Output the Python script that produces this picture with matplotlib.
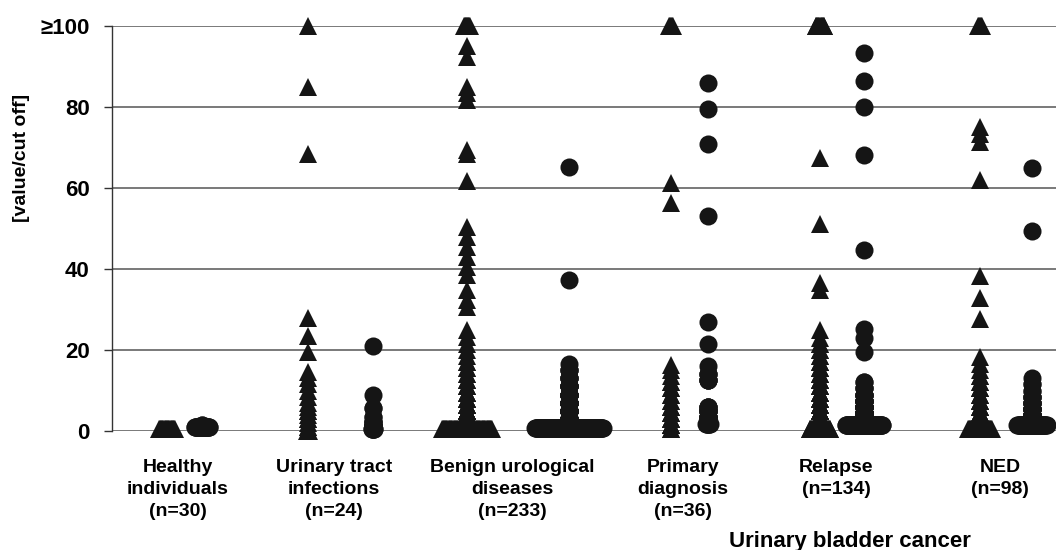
import matplotlib
matplotlib.use("Agg")
import matplotlib.pyplot as plt
import numpy as np

plt.rcParams['font.family'] = ['Liberation Sans', 'DejaVu Sans']

# categories
group_labels = [
    "Healthy\nindividuals\n(n=30)",
    "Urinary tract\ninfections\n(n=24)",
    "Benign urological\ndiseases\n(n=233)",
    "Primary\ndiagnosis\n(n=36)",
    "Relapse\n(n=134)",
    "NED\n(n=98)",
]
cancer_label = "Urinary bladder cancer"

# triangles: values (>=100 clipped to 100) and how many samples sit on each value
healthy_tri_vals = [0.5]
healthy_tri_cnt = [30]
uti_tri_vals = [0, 1, 2, 3, 4, 5, 6, 7, 8.5, 10, 11.5, 13, 14.5, 19.4, 23.5, 27.8, 68.5, 85, 100]
uti_tri_cnt = [3, 2, 1, 2, 1, 2, 1, 1, 1, 1, 1, 1, 1, 1, 1, 1, 1, 1, 1]
benign_tri_vals = [0.5, 1, 2, 3, 4, 5, 6.5, 8, 9.5, 11, 12.5, 14, 15.5, 17, 18.5, 20, 21.5,
                   23.3, 24.9, 30.7, 32.3, 34.8, 38.5, 40.5, 43, 45.5, 47.9, 50.4, 61.7,
                   68.5, 69.5, 81.7, 83.4, 85, 92.4, 95.1, 100]
benign_tri_cnt = [92, 24, 21, 15, 12, 10, 6, 5, 4, 3, 3, 2, 2, 2, 1, 1, 1,
                  1, 1, 1, 1, 1, 1, 1, 1, 1, 1, 1, 1,
                  1, 1, 1, 1, 1, 1, 1, 12]
primary_tri_vals = [0.5, 1.5, 3, 4.5, 6, 7.5, 9, 10.5, 12, 13.5, 15, 16.3, 56.3, 61.3, 100]
primary_tri_cnt = [2, 4, 4, 3, 3, 2, 2, 2, 2, 1, 1, 1, 1, 1, 7]
relapse_tri_vals = [0.5, 2, 3.5, 5, 6.5, 8, 9.5, 11, 12.5, 14, 15.5, 17, 18.5, 20, 21.5, 23,
                    24.9, 34.7, 36.6, 51, 67.5, 100]
relapse_tri_cnt = [39, 12, 10, 9, 7, 6, 5, 4, 4, 3, 3, 3, 2, 2, 2, 1,
                   1, 1, 1, 1, 1, 17]
ned_tri_vals = [0.5, 1.5, 3, 4.5, 6, 7.5, 9, 10.5, 12, 13.5, 15, 16.5, 18.3, 27.6, 32.8,
                38.3, 61.9, 71.4, 73.3, 75, 100]
ned_tri_cnt = [44, 8, 6, 5, 4, 4, 3, 3, 2, 2, 1, 1, 1, 1, 1, 1, 1, 1, 1, 1, 7]

# circles
healthy_cir_vals = [1.0, 1.5]
healthy_cir_cnt = [28, 2]
uti_cir_vals = [0.5, 1.2, 2.3, 3.5, 5.6, 9, 21]
uti_cir_cnt = [6, 8, 4, 2, 2, 1, 1]
benign_cir_vals = [0.7, 2, 3, 5, 7, 9, 11, 13, 15, 16.5, 37.3, 65.2]
benign_cir_cnt = [124, 30, 25, 18, 12, 8, 6, 4, 3, 1, 1, 1]
primary_cir_vals = [1.7, 3.5, 5, 6, 12.6, 14, 16.1, 21.5, 27, 53.1, 70.8, 79.4, 86]
primary_cir_cnt = [7, 6, 5, 4, 4, 3, 1, 1, 1, 1, 1, 1, 1]
relapse_cir_vals = [1.5, 3, 4.5, 6, 7.5, 9, 10.5, 12, 19.4, 23, 25.2, 44.6, 68.2, 80, 86.5, 93.3]
relapse_cir_cnt = [68, 18, 13, 10, 7, 5, 3, 2, 1, 1, 1, 1, 1, 1, 1, 1]
ned_cir_vals = [1.5, 3, 4, 5.5, 7, 8.5, 10, 11.5, 13, 49.5, 65]
ned_cir_cnt = [54, 12, 9, 7, 5, 4, 2, 2, 1, 1, 1]

tri_series = [(healthy_tri_vals, healthy_tri_cnt), (uti_tri_vals, uti_tri_cnt),
              (benign_tri_vals, benign_tri_cnt), (primary_tri_vals, primary_tri_cnt),
              (relapse_tri_vals, relapse_tri_cnt), (ned_tri_vals, ned_tri_cnt)]
cir_series = [(healthy_cir_vals, healthy_cir_cnt), (uti_cir_vals, uti_cir_cnt),
              (benign_cir_vals, benign_cir_cnt), (primary_cir_vals, primary_cir_cnt),
              (relapse_cir_vals, relapse_cir_cnt), (ned_cir_vals, ned_cir_cnt)]

# layout (x in pixel-like units along the axis)
tri_x = [55, 196, 355, 559, 708, 868]
cir_x = [90, 261, 457, 596, 752, 920]
label_x = [66, 222, 400, 571, 724, 888]
STEP = 0.55
INK = '#151515'


def expand(vals, cnts, x0):
    # lowest value and clipped top get spread sideways, the rest stack on the column
    xs, ys = [], []
    for i, (v, c) in enumerate(zip(vals, cnts)):
        if c > 1 and (i == 0 or v >= 100):
            off = (np.arange(c) - (c - 1) / 2) * STEP
        else:
            off = np.zeros(c)
        xs.extend(x0 + off)
        ys.extend([v] * c)
    return xs, ys


fig = plt.figure(figsize=(10.56, 5.5), dpi=100)
ax = fig.add_axes([112 / 1056, 119 / 550, 944 / 1056, 405 / 550])

for (vals, cnts), x0 in zip(tri_series, tri_x):
    xs, ys = expand(vals, cnts, x0)
    ax.plot(xs, ys, ls='none', marker='^', ms=12.5, mew=0, color=INK, clip_on=False, zorder=3)
for (vals, cnts), x0 in zip(cir_series, cir_x):
    xs, ys = expand(vals, cnts, x0)
    ax.plot(xs, ys, ls='none', marker='o', ms=13, mew=0, color=INK, clip_on=False, zorder=3)

ax.set_xlim(0, 944)
ax.set_ylim(0, 100)
ax.set_xticks([])
ax.set_yticks([0, 20, 40, 60, 80, 100])
ax.set_yticklabels(['0', '20', '40', '60', '80', '≥100'], fontsize=16, fontweight='bold')
ax.tick_params(axis='y', direction='out', length=6, width=1, pad=10, color='#333333')
ax.yaxis.grid(True, color='#555555', lw=1.1)
ax.set_axisbelow(True)
for side in ['top', 'right', 'bottom']:
    ax.spines[side].set_visible(False)
ax.spines['left'].set_color('#333333')
ax.spines['left'].set_linewidth(1)

for x, lab in zip(label_x, group_labels):
    ax.text(x, -7, lab, ha='center', va='top', fontsize=14, fontweight='bold',
            linespacing=1.38, clip_on=False)
ax.text(738, -27.2, cancer_label, ha='center', va='center', fontsize=16,
        fontweight='bold', clip_on=False)

fig.text(22 / 1056, 1 - 158 / 550, '[value/cut off]', rotation=90, ha='center',
         va='center', fontsize=14, fontweight='bold')

fig.savefig('out.png', dpi=100)
